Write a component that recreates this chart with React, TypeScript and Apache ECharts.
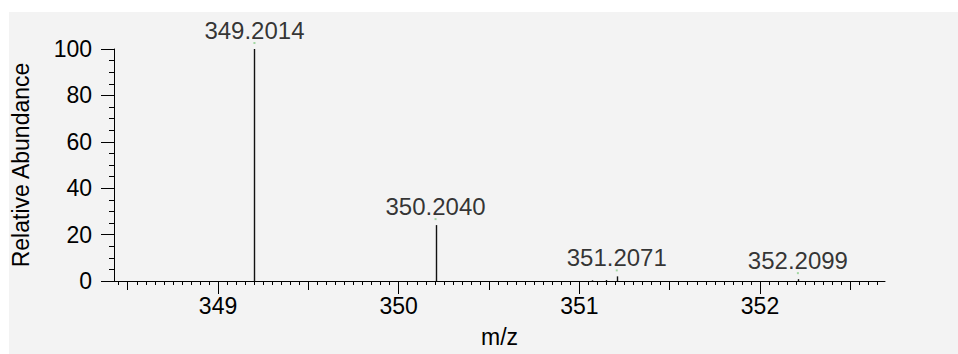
import React, { useEffect, useRef } from "react";
import * as echarts from "echarts";

// Peaks (m/z, relative abundance)
const peakMz = [349.2014, 350.204, 351.07, 351.15, 351.2071, 352.2099];
const peakAbundance = [100, 24.1, 0.3, 0.4, 2.0, 0.8];
// Labelled peaks
const labeledMz = [349.2014, 350.204, 351.2071, 352.2099];
const labeledAbundance = [100, 24.1, 2.0, 0.8];
// Axis ticks
const xTickLabels = [349, 350, 351, 352];
const xHalfTicks = [348.5, 349.5, 350.5, 351.5, 352.5];
const xMin = 348.424;
const xMax = 352.692;

const xMinorTicks: number[] = [];
for (let i = Math.ceil(xMin * 20); i <= Math.floor(xMax * 20); i++) {
  if (i % 10 !== 0) xMinorTicks.push(Math.round(i * 5) / 100);
}

const FONT = "'Liberation Sans', Arial, sans-serif";
const INK = "#000";

export default function App() {
  const ref = useRef<HTMLDivElement>(null);
  useEffect(() => {
    if (!ref.current) return;
    const chart = echarts.init(ref.current, undefined, { renderer: "svg" });
    const hiddenAxisBase = {
      type: "value" as const,
      min: xMin,
      max: xMax,
      position: "bottom" as const,
      axisLine: { show: false },
      axisLabel: { show: false },
      splitLine: { show: false },
    };
    chart.setOption({
      animation: false,
      backgroundColor: "transparent",
      textStyle: { fontFamily: FONT },
      grid: { left: 114, right: 73, top: 49, bottom: 73, containLabel: false },
      xAxis: [
        {
          type: "value",
          min: xMin,
          max: xMax,
          position: "bottom",
          name: "m/z",
          nameLocation: "middle",
          nameGap: 44,
          nameTextStyle: { fontSize: 23, color: INK, fontFamily: FONT },
          axisLine: { show: true, lineStyle: { color: INK, width: 1 } },
          axisTick: {
            show: true,
            customValues: xTickLabels,
            length: 13,
            lineStyle: { color: INK, width: 1 },
          },
          axisLabel: {
            show: true,
            customValues: xTickLabels,
            fontSize: 23,
            color: INK,
            margin: 13,
            fontFamily: FONT,
          },
          splitLine: { show: false },
        },
        {
          ...hiddenAxisBase,
          axisTick: {
            show: true,
            customValues: xHalfTicks,
            length: 9,
            lineStyle: { color: INK, width: 1 },
          },
        },
        {
          ...hiddenAxisBase,
          axisTick: {
            show: true,
            customValues: xMinorTicks,
            length: 4,
            lineStyle: { color: INK, width: 1 },
          },
        },
      ],
      yAxis: {
        type: "value",
        min: 0,
        max: 100,
        interval: 20,
        name: "Relative Abundance",
        nameLocation: "middle",
        nameGap: 82,
        nameTextStyle: { fontSize: 23, color: INK, fontFamily: FONT },
        axisLine: { show: true, lineStyle: { color: INK, width: 1 } },
        axisTick: { show: true, inside: false, length: 13, lineStyle: { color: INK, width: 1 } },
        minorTick: { show: true, splitNumber: 4, length: 5, lineStyle: { color: INK, width: 1 } },
        axisLabel: { fontSize: 23, color: INK, margin: 22, fontFamily: FONT, padding: [0, 0, 4, 0] },
        splitLine: { show: false },
      },
      series: [
        {
          type: "custom",
          xAxisIndex: 0,
          yAxisIndex: 0,
          data: peakMz.map((m, i) => [m, peakAbundance[i]]),
          encode: { x: 0, y: 1 },
          renderItem: (params: any, api: any) => {
            const x = api.value(0);
            const y = api.value(1);
            const p0 = api.coord([x, 0]);
            const p1 = api.coord([x, y]);
            const px = Math.round(p0[0]) + 0.5;
            return {
              type: "line",
              shape: { x1: px, y1: p0[1], x2: px, y2: p1[1] },
              style: { stroke: "#111", lineWidth: 1.4 },
            };
          },
          z: 3,
        },
        {
          type: "scatter",
          xAxisIndex: 0,
          yAxisIndex: 0,
          data: labeledMz.map((m, i) => [m, labeledAbundance[i]]),
          symbol: "rect",
          symbolSize: 2,
          symbolOffset: [0, -6],
          itemStyle: { color: "#8fd08f" },
          label: {
            show: true,
            position: "top",
            distance: 0,
            fontSize: 24,
            color: INK,
            fontFamily: FONT,
            formatter: (p: any) => p.value[0].toFixed(4),
          },
          z: 4,
        },
      ],
    });
    return () => chart.dispose();
  }, []);

  return (
    <div style={{ position: "absolute", left: 0, top: 0, width: 958, height: 354, background: "#ffffff" }}>
      <div style={{ position: "absolute", left: 9, top: 12, right: 0, bottom: 0, background: "#f3f3f3" }} />
      <div ref={ref} style={{ position: "absolute", left: 0, top: 0, width: 958, height: 354 }} />
    </div>
  );
}
